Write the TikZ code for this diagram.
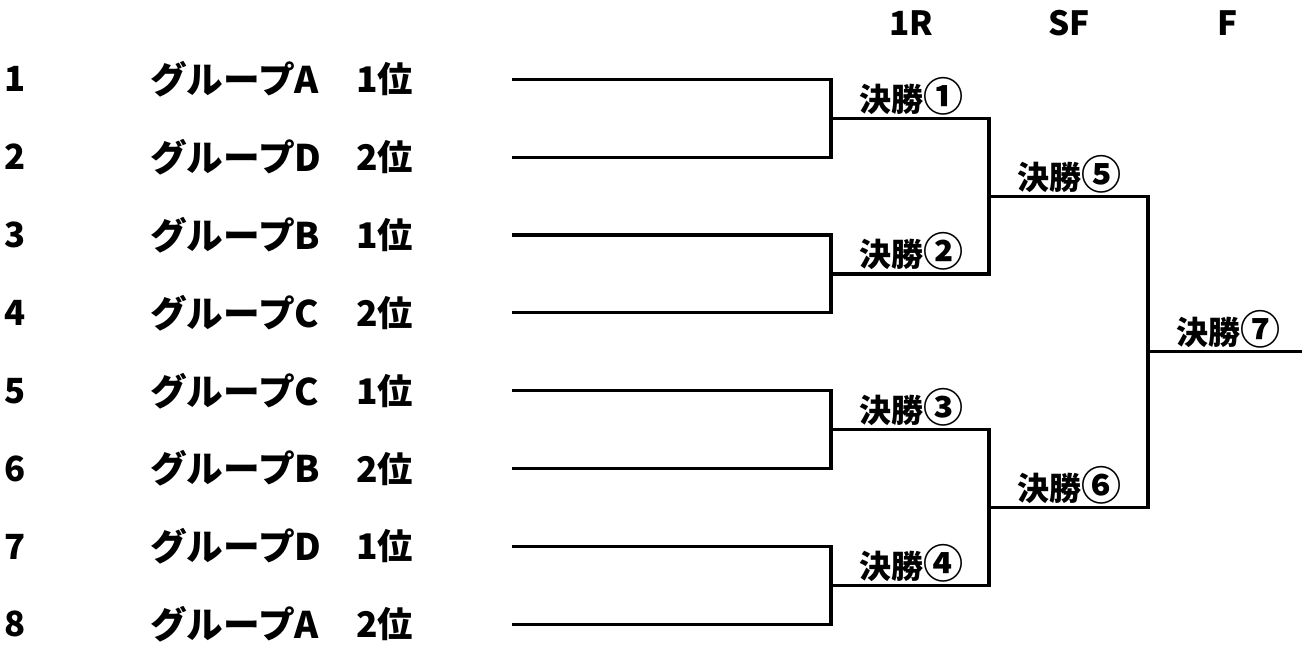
\documentclass[tikz,border=0pt]{standalone}
\usepackage{fontspec}
\setmainfont{Noto Sans CJK JP}
\newcommand{\matchnum}[1]{{\fontsize{30}{30}\selectfont #1}}
\begin{document}
\begin{tikzpicture}[x=0.75pt,y=-0.75pt,
  bline/.style={line width=2.3pt,line join=miter,line cap=butt},
  seed/.style={font=\fontsize{26}{28}\selectfont\bfseries,anchor=center,inner sep=0pt},
  team/.style={font=\fontsize{27.5}{29}\selectfont\bfseries,anchor=west,inner sep=0pt},
  rank/.style={font=\fontsize{26.5}{28}\selectfont\bfseries,anchor=west,inner sep=0pt},
  head/.style={font=\fontsize{25}{27}\selectfont\bfseries,anchor=center,inner sep=0pt},
  match/.style={font=\fontsize{24}{26}\selectfont\bfseries,anchor=south,inner sep=1pt}]
\useasboundingbox (0,0) rectangle (1302,646);
% headers
\node[head] (h1) at (911,23) {1R};
\node[head] (h2) at (1069,23) {SF};
\node[head] (h3) at (1228,23) {F};
% entries
\foreach \i/\grp/\rk in {1/A/1,2/D/2,3/B/1,4/C/2,5/C/1,6/B/2,7/D/1,8/A/2}{
  \pgfmathsetmacro{\yy}{79.3+77.86*(\i-1)}
  \node[seed] (n\i) at (15,\yy) {\i};
  \node[team] (t\i) at (150,\yy) {グループ{\grp}};
  \node[rank] (r\i) at (356,\yy) {{\rk}位};
  \coordinate (s\i) at (512,\yy);
}
% first round joints
\coordinate (j1) at (831,118.2);
\coordinate (j2) at (831,274.0);
\coordinate (j3) at (831,429.7);
\coordinate (j4) at (831,585.4);
% semifinal joints
\coordinate (q1) at (989,196.1);
\coordinate (q2) at (989,507.6);
% final joint
\coordinate (f) at (1148,351.8);
\coordinate (fend) at (1302,351.8);
% brackets
\draw[bline] (s1) -| (j1) |- (s2);
\draw[bline] (s3) -| (j2) |- (s4);
\draw[bline] (s5) -| (j3) |- (s6);
\draw[bline] (s7) -| (j4) |- (s8);
\draw[bline] (j1) -| (q1) |- (j2);
\draw[bline] (j3) -| (q2) |- (j4);
\draw[bline] (q1) -| (f) |- (q2);
\draw[bline] (f) -- (fend);
% match labels
\node[match] (m1) at (911,116.5) {決勝\matchnum{①}};
\node[match] (m2) at (911,272.3) {決勝\matchnum{②}};
\node[match] (m3) at (911,428.0) {決勝\matchnum{③}};
\node[match] (m4) at (911,583.7) {決勝\matchnum{④}};
\node[match] (m5) at (1069,194.4) {決勝\matchnum{⑤}};
\node[match] (m6) at (1069,505.9) {決勝\matchnum{⑥}};
\node[match] (m7) at (1228,350.1) {決勝\matchnum{⑦}};
\end{tikzpicture}
\end{document}
